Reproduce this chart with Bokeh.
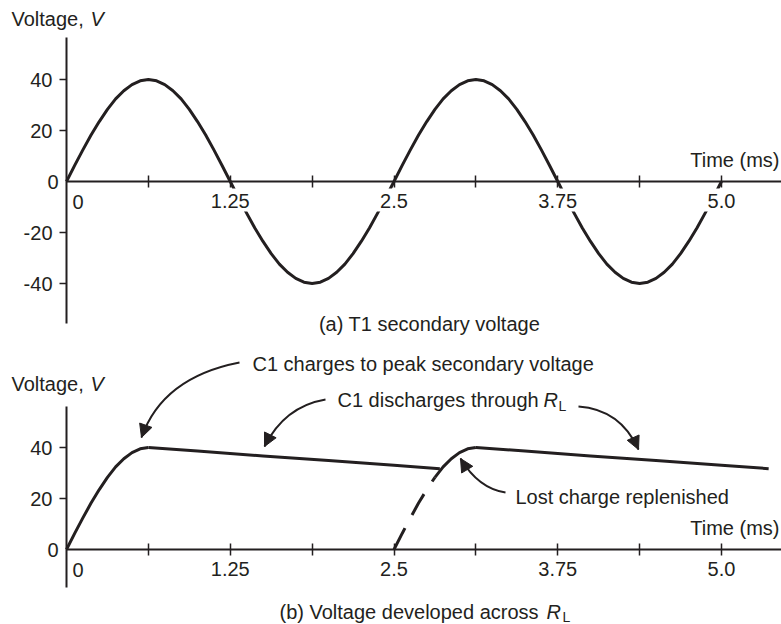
from bokeh.plotting import figure
from bokeh.models import FixedTicker, Label, Arrow, NormalHead, Range1d
from bokeh.layouts import column
from bokeh.embed import file_html
from bokeh.resources import INLINE

INK = "#231f20"
FONT = "Liberation Sans"
FS = "20px"

# ---------------- data ----------------
# (a) T1 secondary voltage, sampled every 0.0625 ms from 0 to 5.0 ms
sec_step = 0.0625
secondary_v = [0, 6.3, 12.4, 18.2, 23.5, 28.3, 32.4, 35.6, 38.0, 39.5, 40, 39.5, 38.0, 35.6, 32.4, 28.3, 23.5, 18.2, 12.4, 6.3,
               0, -6.3, -12.4, -18.2, -23.5, -28.3, -32.4, -35.6, -38.0, -39.5, -40, -39.5, -38.0, -35.6, -32.4, -28.3, -23.5, -18.2, -12.4, -6.3,
               0, 6.3, 12.4, 18.2, 23.5, 28.3, 32.4, 35.6, 38.0, 39.5, 40, 39.5, 38.0, 35.6, 32.4, 28.3, 23.5, 18.2, 12.4, 6.3,
               0, -6.3, -12.4, -18.2, -23.5, -28.3, -32.4, -35.6, -38.0, -39.5, -40, -39.5, -38.0, -35.6, -32.4, -28.3, -23.5, -18.2, -12.4, -6.3,
               0]
secondary_t = [i * sec_step for i in range(len(secondary_v))]

# (b) Voltage developed across RL
charge1_t = [0, 0.0625, 0.125, 0.1875, 0.25, 0.3125, 0.375, 0.4375, 0.5, 0.5625, 0.625]
charge1_v = [0, 6.3, 12.4, 18.2, 23.5, 28.3, 32.4, 35.6, 38.0, 39.5, 40]
decay1_t = [0.625, 1.0, 1.5, 2.0, 2.5, 2.85]
decay1_v = [40, 38.6, 36.7, 34.9, 33.0, 31.7]
dashed_t = [2.5, 2.5625, 2.625, 2.6875, 2.75, 2.8125]
dashed_v = [0, 6.3, 12.4, 18.2, 23.5, 28.3]
charge2_t = [2.8125, 2.875, 2.9375, 3.0, 3.0625, 3.125]
charge2_v = [28.3, 32.4, 35.6, 38.0, 39.5, 40]
decay2_t = [3.125, 3.5, 4.0, 4.5, 5.0, 5.36]
decay2_v = [40, 38.6, 36.7, 34.9, 33.0, 31.7]

x_tick_values = [1.25, 2.5, 3.75, 5.0]
x_tick_labels = ["1.25", "2.5", "3.75", "5.0"]
x_minor_ticks = [0.625, 1.875, 3.125, 4.375]
y_ticks_a = [-40, -20, 20, 40]
y_labels_a = ["-40", "-20", "20", "40"]
y_ticks_b = [20, 40]
y_labels_b = ["20", "40"]

# ---------------- geometry (page pixels -> data) ----------------
PX_PER_MS = 131.0
PX_PER_V = 2.55
X0 = 66          # page x of t = 0
W = 781
H1, H2 = 345, 279
ZERO_A = 181     # page y of 0 V in (a)
ZERO_B = 549     # page y of 0 V in (b)

def dx(px):
    return (px - X0) / PX_PER_MS

def dya(py):
    return (ZERO_A - py) / PX_PER_V

def dyb(py):
    return (ZERO_B - py) / PX_PER_V

x_lo, x_hi = dx(0), dx(W)


def make_fig(h, y_lo, y_hi, yticks, ylabels, ybounds):
    p = figure(width=W, height=h, x_range=Range1d(x_lo, x_hi), y_range=Range1d(y_lo, y_hi),
               output_backend="svg", toolbar_location=None, title=None, min_border=0)
    p.min_border_left = p.min_border_right = p.min_border_top = p.min_border_bottom = 0
    p.outline_line_color = None
    p.xgrid.visible = False
    p.ygrid.visible = False
    p.background_fill_color = "white"
    p.border_fill_color = "white"

    xa = p.xaxis[0]
    ya = p.yaxis[0]
    xa.fixed_location = 0
    ya.fixed_location = 0
    xa.bounds = (0, x_hi)
    ya.bounds = ybounds
    xa.ticker = FixedTicker(ticks=x_tick_values, minor_ticks=x_minor_ticks)
    xa.major_label_overrides = dict(zip(x_tick_values, x_tick_labels))
    for ax in (xa, ya):
        ax.axis_line_color = INK
        ax.axis_line_width = 2
        ax.major_tick_line_color = INK
        ax.minor_tick_line_color = INK
        ax.major_tick_line_width = 1.5
        ax.minor_tick_line_width = 1.5
        ax.major_label_text_font = FONT
        ax.major_label_text_font_size = FS
        ax.major_label_text_color = INK
    xa.major_tick_in = 6
    xa.major_tick_out = 6
    xa.minor_tick_in = 6
    xa.minor_tick_out = 6
    xa.major_label_standoff = 6
    ya.ticker = FixedTicker(ticks=yticks, minor_ticks=[])
    ya.major_label_overrides = dict(zip(yticks, ylabels))
    ya.major_tick_in = 0
    ya.major_tick_out = 7
    ya.minor_tick_in = 0
    ya.minor_tick_out = 0
    ya.major_label_standoff = 7
    return p


def add_text(p, x, y, text, align="left", size=FS, style="normal"):
    p.add_layout(Label(x=x, y=y, text=text, text_font=FONT, text_font_size=size,
                       text_color=INK, text_align=align, text_baseline="middle",
                       text_font_style=style))


def add_arrow(p, S, C, E, dy):
    (sx, sy), (cx, cy), (ex, ey) = S, C, E
    x0, y0, x1, y1, xc, yc = dx(sx), dy(sy), dx(ex), dy(ey), dx(cx), dy(cy)
    p.quadratic(x0=[x0], y0=[y0], x1=[x1], y1=[y1], cx=[xc], cy=[yc],
                line_color=INK, line_width=2)
    f = 0.2
    p.add_layout(Arrow(end=NormalHead(size=13, fill_color=INK, line_color=INK, line_width=1),
                       x_start=x1 - f * (x1 - xc), y_start=y1 - f * (y1 - yc),
                       x_end=x1, y_end=y1, line_color=INK, line_width=2))


# ---------------- (a) ----------------
p1 = make_fig(H1, dya(H1), dya(0), y_ticks_a, y_labels_a, (dya(323), dya(37)))
p1.line(secondary_t, secondary_v, line_width=3, line_color=INK, line_join="round")
# white backing behind the time labels (the curve passes under them)
p1.rect(x=x_tick_values, y=[dya(199.5)] * len(x_tick_values), width=46, height=23,
        width_units="screen", height_units="screen", fill_color="white", line_color=None)
add_text(p1, dx(11), dya(18.5), "Voltage, ")
add_text(p1, dx(90), dya(18.5), "V", style="italic")
add_text(p1, dx(58), 0, "0", align="right")
add_text(p1, dx(77.5), dya(201), "0", align="center")
add_text(p1, dx(779), dya(159), "Time (ms)", align="right")
add_text(p1, dx(429), dya(323.5), "(a) T1 secondary voltage", align="center")

# ---------------- (b) ----------------
p2 = make_fig(H2, dyb(H1 + H2), dyb(H1), y_ticks_b, y_labels_b, (dyb(587), dyb(406)))
p2.line(charge1_t, charge1_v, line_width=3, line_color=INK, line_join="round")
p2.line(decay1_t, decay1_v, line_width=3, line_color=INK, line_join="round")
p2.line(dashed_t, dashed_v, line_width=3, line_color=INK, line_dash="24 15")
p2.line(charge2_t, charge2_v, line_width=3, line_color=INK, line_join="round")
p2.line(decay2_t, decay2_v, line_width=3, line_color=INK, line_join="round")

add_text(p2, dx(11), dyb(383), "Voltage, ")
add_text(p2, dx(90), dyb(383), "V", style="italic")
add_text(p2, dx(58), 0, "0", align="right")
add_text(p2, dx(77.5), dyb(569), "0", align="center")
add_text(p2, dx(779), dyb(527), "Time (ms)", align="right")

add_text(p2, dx(252), dyb(363.5), "C1 charges to peak secondary voltage")
add_text(p2, dx(337), dyb(399.5), "C1 discharges through")
add_text(p2, dx(543), dyb(399.5), "R", style="italic")
add_text(p2, dx(558), dyb(405), "L", size="14px")
add_text(p2, dx(515), dyb(496), "Lost charge replenished")
add_text(p2, dx(279), dyb(611), "(b) Voltage developed across")
add_text(p2, dx(546), dyb(611), "R", style="italic")
add_text(p2, dx(562), dyb(616), "L", size="14px")

add_arrow(p2, (239, 362), (162, 377), (141, 437), dyb)
add_arrow(p2, (325, 399), (284, 406), (264, 446), dyb)
add_arrow(p2, (578, 406), (620, 409), (638, 449), dyb)
add_arrow(p2, (505, 492), (478, 488), (460, 458), dyb)

layout = column(p1, p2, spacing=0)
open("out.html", "w").write(file_html(layout, INLINE))
